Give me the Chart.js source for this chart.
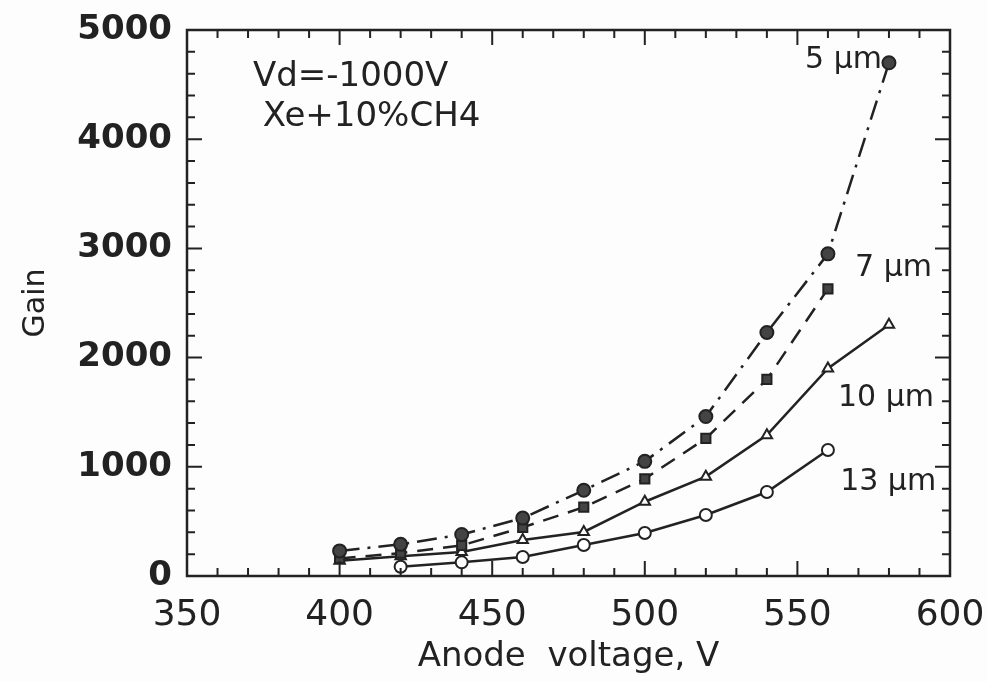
<!DOCTYPE html>
<html>
<head>
<meta charset="utf-8">
<script src="https://cdn.jsdelivr.net/npm/chart.js@4/dist/chart.umd.min.js"></script>
<style>
  html, body { margin: 0; padding: 0; background: #fdfdfd; }
  #wrap { width: 987px; height: 682px; }
</style>
</head>
<body>
<div id="wrap"><canvas id="gainChart"></canvas></div>
<script>
// anode voltage (V)
const voltages = [400, 420, 440, 460, 480, 500, 520, 540, 560, 580]
// gain, one list per anode wire diameter
const gain5um  = [230, 290, 380, 530, 785, 1050, 1460, 2230, 2950, 4700]
const gain7um  = [160, 210, 280, 445, 630, 890, 1260, 1800, 2630, null]
const gain10um = [140, 180, 220, 330, 403, 680, 910, 1290, 1900, 2300]
const gain13um = [null, 85, 125, 174, 284, 394, 559, 769, 1154, null]
const seriesNames = ['5 µm', '7 µm', '10 µm', '13 µm']
const xTicks = [350, 400, 450, 500, 550, 600]
const yTicks = [0, 1000, 2000, 3000, 4000, 5000]

const ink = '#222'

function toPoints(ys) {
  return voltages.map((v, i) => ({ x: v, y: ys[i] })).filter(p => p.y !== null)
}

// frame + inward ticks on all four sides, plus the text notes
const framePlugin = {
  id: 'frame',
  afterDraw(chart) {
    const ctx = chart.ctx
    const a = chart.chartArea
    const xs = chart.scales.x, ys = chart.scales.y
    ctx.save()
    ctx.strokeStyle = ink
    ctx.lineWidth = 2.5
    ctx.strokeRect(a.left, a.top, a.right - a.left, a.bottom - a.top)
    ctx.lineWidth = 2
    ctx.beginPath()
    for (let v = xTicks[0]; v <= xTicks[xTicks.length - 1]; v += 10) {
      const px = xs.getPixelForValue(v)
      const len = v % 50 === 0 ? 15 : 8
      ctx.moveTo(px, a.bottom); ctx.lineTo(px, a.bottom - len)
      ctx.moveTo(px, a.top); ctx.lineTo(px, a.top + len)
    }
    for (let v = yTicks[0]; v <= yTicks[yTicks.length - 1]; v += 200) {
      const py = ys.getPixelForValue(v)
      const len = v % 1000 === 0 ? 15 : 8
      ctx.moveTo(a.left, py); ctx.lineTo(a.left + len, py)
      ctx.moveTo(a.right, py); ctx.lineTo(a.right - len, py)
    }
    ctx.stroke()

    ctx.fillStyle = ink
    ctx.textBaseline = 'middle'
    ctx.textAlign = 'left'
    ctx.font = '34px "DejaVu Sans"'
    ctx.fillText('Vd=-1000V', xs.getPixelForValue(371.6), ys.getPixelForValue(4565))
    ctx.fillText('Xe+10%CH4', xs.getPixelForValue(374.8), ys.getPixelForValue(4205))

    ctx.font = '30px "DejaVu Sans"'
    const labelAt = [[552.5, 4725], [568.9, 2820], [563.3, 1630], [564, 860]]
    seriesNames.forEach((n, i) => {
      ctx.fillText(n, xs.getPixelForValue(labelAt[i][0]), ys.getPixelForValue(labelAt[i][1]))
    })
    ctx.restore()
  }
}

const common = {
  borderColor: ink,
  borderWidth: 2.5,
  pointBorderColor: ink,
  pointBorderWidth: 2,
  pointRadius: 6.5,
  tension: 0,
  spanGaps: true
}

new Chart('gainChart', {
  type: 'line',
  data: {
    datasets: [
      { ...common, label: seriesNames[0], data: toPoints(gain5um), borderDash: [20, 8, 3, 8],
        pointStyle: 'circle', pointBackgroundColor: '#444' },
      { ...common, label: seriesNames[1], data: toPoints(gain7um), borderDash: [16, 10],
        pointStyle: 'rect', pointRadius: 6.5, pointBackgroundColor: '#444' },
      { ...common, label: seriesNames[2], data: toPoints(gain10um),
        pointStyle: 'triangle', pointRadius: 6, pointBackgroundColor: '#fff' },
      { ...common, label: seriesNames[3], data: toPoints(gain13um),
        pointStyle: 'circle', pointRadius: 6, pointBackgroundColor: '#fff' }
    ]
  },
  options: {
    responsive: true,
    maintainAspectRatio: false,
    animation: false,
    layout: { padding: { top: 30, right: 37, left: 0, bottom: 0 } },
    plugins: { legend: { display: false }, tooltip: { enabled: false } },
    scales: {
      x: {
        type: 'linear', min: 350, max: 600,
        afterFit: s => { s.height = 106; s.paddingLeft = 0; s.paddingRight = 0 },
        afterBuildTicks: s => { s.ticks = xTicks.map(v => ({ value: v })) },
        grid: { display: false, drawTicks: false },
        border: { display: false },
        ticks: { color: ink, padding: 18, maxRotation: 0, autoSkip: false,
          callback: v => String(v),
          font: { family: 'DejaVu Sans', size: 36 } },
        title: { display: true, text: 'Anode  voltage, V', color: ink,
          font: { family: 'DejaVu Sans', size: 34 }, padding: { top: 0, bottom: 4 } }
      },
      y: {
        min: 0, max: 5000,
        afterFit: s => { s.width = 187; s.paddingTop = 0; s.paddingBottom = 0 },
        afterBuildTicks: s => { s.ticks = yTicks.map(v => ({ value: v })) },
        grid: { display: false, drawTicks: false },
        border: { display: false },
        ticks: { color: ink, padding: 15, autoSkip: false,
          callback: v => String(v),
          font: { family: 'DejaVu Sans', size: 34, weight: 'bold' } },
        title: { display: true, text: 'Gain', color: ink,
          font: { family: 'DejaVu Sans', size: 30 }, padding: { top: 18, bottom: 0 } }
      }
    }
  },
  plugins: [framePlugin]
})
</script>
</body>
</html>
